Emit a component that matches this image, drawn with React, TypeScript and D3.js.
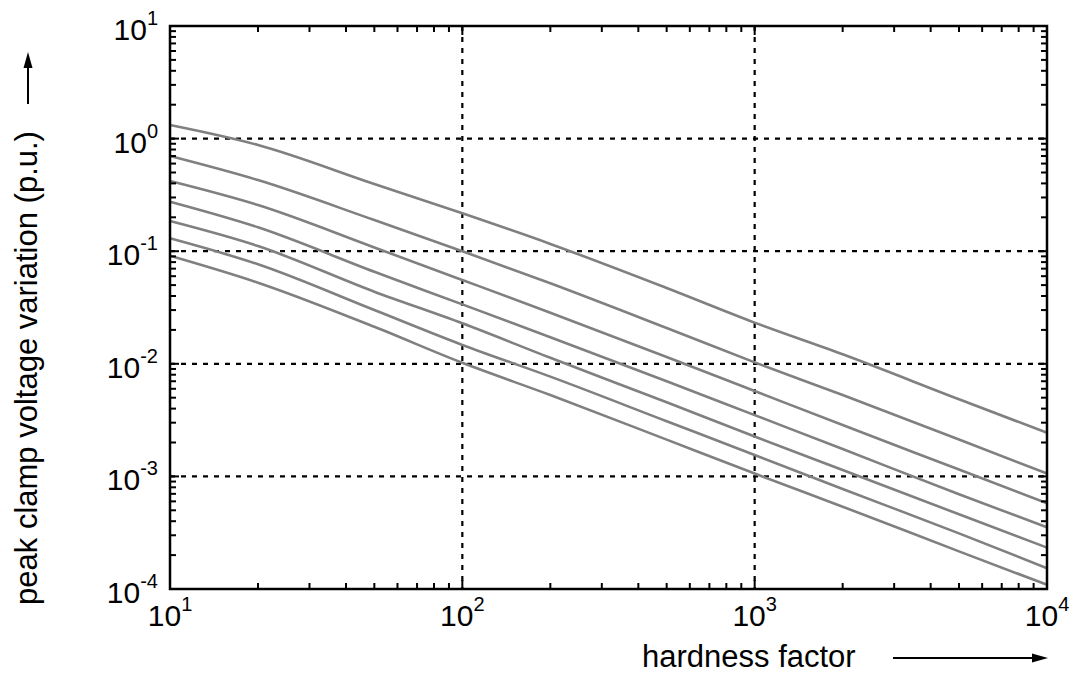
import React from "react";
import * as d3 from "d3";

// hardness factor samples (x axis)
const hardness = [10, 20, 50, 100, 200, 500, 1000, 2000, 5000, 10000];

// peak clamp voltage variation (p.u.), one array per curve, top to bottom
const curveA = [1.32, 0.877, 0.395, 0.217, 0.116, 0.0471, 0.0232, 0.01214, 0.00484, 0.00244];
const curveB = [0.7, 0.428, 0.189, 0.1, 0.0519, 0.0208, 0.0103, 0.00528, 0.00213, 0.00106];
const curveC = [0.42, 0.257, 0.108, 0.0555, 0.0284, 0.01148, 0.00573, 0.00286, 0.00115, 0.000577];
const curveD = [0.275, 0.163, 0.0657, 0.0337, 0.0172, 0.007, 0.0035, 0.00175, 0.000693, 0.000353];
const curveE = [0.185, 0.111, 0.0437, 0.0229, 0.0113, 0.00455, 0.00226, 0.00114, 0.000461, 0.000233];
const curveF = [0.13, 0.0765, 0.03, 0.0147, 0.00769, 0.00309, 0.00155, 0.000773, 0.000312, 0.000153];
const curveG = [0.091, 0.0525, 0.0213, 0.0102, 0.00528, 0.00212, 0.00106, 0.000538, 0.000216, 0.000109];

const curves = [curveA, curveB, curveC, curveD, curveE, curveF, curveG];

// decade tick exponents
const xExponents = [1, 2, 3, 4];
const yExponents = [-4, -3, -2, -1, 0, 1];

const xTitle = "hardness factor";
const yTitle = "peak clamp voltage variation (p.u.)";

const W = 1069;
const H = 674;
const left = 170;
const right = 1047;
const top = 26;
const bottom = 589;
const FONT = "'Liberation Sans', Arial, Helvetica, sans-serif";

export default function App() {
  const x = d3.scaleLog().domain([10, 10000]).range([left, right]);
  const y = d3.scaleLog().domain([1e-4, 10]).range([bottom, top]);

  const line = d3
    .line<number>()
    .x((_, i) => x(hardness[i]))
    .y((d) => y(d))
    .curve(d3.curveMonotoneX);

  // minor tick positions within each decade
  const xMinor: number[] = [];
  for (let e = 1; e < 4; e++) for (let k = 2; k <= 9; k++) xMinor.push(k * Math.pow(10, e));
  const yMinor: number[] = [];
  for (let e = -4; e < 1; e++) for (let k = 2; k <= 9; k++) yMinor.push(k * Math.pow(10, e));

  const minorLen = 6;
  const majorLen = 9;

  return (
    <svg
      width={W}
      height={H}
      style={{ position: "absolute", left: 0, top: 0, background: "#fff" }}
      fontFamily={FONT}
    >
      <rect x={0} y={0} width={W} height={H} fill="#fff" />

      {/* dotted grid at inner decades */}
      {xExponents
        .filter((e) => e > 1 && e < 4)
        .map((e) => (
          <line
            key={"gx" + e}
            x1={x(Math.pow(10, e))}
            x2={x(Math.pow(10, e))}
            y1={top}
            y2={bottom}
            stroke="#000"
            strokeWidth={2.2}
            strokeDasharray="5,6"
          />
        ))}
      {yExponents
        .filter((e) => e > -4 && e < 1)
        .map((e) => (
          <line
            key={"gy" + e}
            x1={left}
            x2={right}
            y1={y(Math.pow(10, e))}
            y2={y(Math.pow(10, e))}
            stroke="#000"
            strokeWidth={2.2}
            strokeDasharray="5,6"
          />
        ))}

      {/* curves */}
      {curves.map((c, i) => (
        <path
          key={"c" + i}
          d={line(c) || ""}
          fill="none"
          stroke="#808080"
          strokeWidth={2.6}
          strokeLinejoin="round"
        />
      ))}

      {/* minor ticks on all four sides */}
      {xMinor.map((v) => (
        <g key={"xm" + v} stroke="#000" strokeWidth={2}>
          <line x1={x(v)} x2={x(v)} y1={bottom} y2={bottom - minorLen} />
          <line x1={x(v)} x2={x(v)} y1={top} y2={top + minorLen} />
        </g>
      ))}
      {yMinor.map((v) => (
        <g key={"ym" + v} stroke="#000" strokeWidth={2}>
          <line x1={left} x2={left + minorLen} y1={y(v)} y2={y(v)} />
          <line x1={right} x2={right - minorLen} y1={y(v)} y2={y(v)} />
        </g>
      ))}
      {/* major ticks */}
      {xExponents.map((e) => (
        <g key={"xM" + e} stroke="#000" strokeWidth={2}>
          <line x1={x(Math.pow(10, e))} x2={x(Math.pow(10, e))} y1={bottom} y2={bottom - majorLen} />
          <line x1={x(Math.pow(10, e))} x2={x(Math.pow(10, e))} y1={top} y2={top + majorLen} />
        </g>
      ))}
      {yExponents.map((e) => (
        <g key={"yM" + e} stroke="#000" strokeWidth={2}>
          <line x1={left} x2={left + majorLen} y1={y(Math.pow(10, e))} y2={y(Math.pow(10, e))} />
          <line x1={right} x2={right - majorLen} y1={y(Math.pow(10, e))} y2={y(Math.pow(10, e))} />
        </g>
      ))}

      {/* frame */}
      <rect
        x={left}
        y={top}
        width={right - left}
        height={bottom - top}
        fill="none"
        stroke="#000"
        strokeWidth={2.5}
      />

      {/* x tick labels */}
      {xExponents.map((e) => (
        <text
          key={"xl" + e}
          x={x(Math.pow(10, e))}
          y={bottom + 37}
          textAnchor="middle"
          fontSize={30}
          fill="#000"
        >
          <tspan>10</tspan>
          <tspan dy={-15} fontSize={20}>
            {String(e)}
          </tspan>
        </text>
      ))}

      {/* y tick labels */}
      {yExponents.map((e) => (
        <text
          key={"yl" + e}
          x={158}
          y={y(Math.pow(10, e)) + 14}
          textAnchor="end"
          fontSize={30}
          fill="#000"
        >
          <tspan>10</tspan>
          <tspan dy={-15} fontSize={20}>
            {String(e)}
          </tspan>
        </text>
      ))}

      {/* axis titles with arrows */}
      <text x={642} y={667} fontSize={31} fill="#000">
        {xTitle}
      </text>
      <line x1={893} x2={1036} y1={658} y2={658} stroke="#000" strokeWidth={2} />
      <path d="M1048,658 L1032,653.5 L1032,662.5 Z" fill="#000" />

      <text
        transform={`translate(37,368) rotate(-90)`}
        textAnchor="middle"
        fontSize={31}
        fill="#000"
      >
        {yTitle}
      </text>
      <line x1={28} x2={28} y1={104} y2={64} stroke="#000" strokeWidth={2} />
      <path d="M28,52 L23.5,68 L32.5,68 Z" fill="#000" />
    </svg>
  );
}
